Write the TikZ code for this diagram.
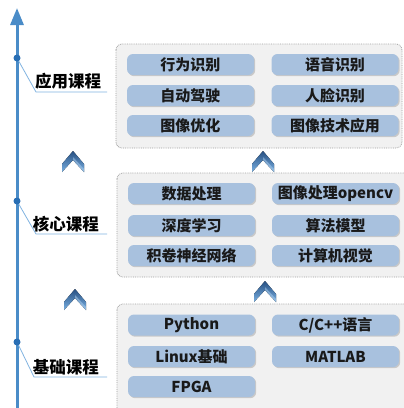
\documentclass[tikz,border=0pt]{standalone}
\usepackage{fontspec}
\setmainfont{Noto Sans CJK SC}
\usetikzlibrary{shadows,arrows.meta}
\definecolor{mainblue}{RGB}{74,140,200}
\definecolor{dotblue}{RGB}{40,110,180}
\definecolor{leaderblue}{RGB}{130,180,225}
\definecolor{boxblue}{RGB}{168,193,222}
\definecolor{panelgray}{RGB}{241,241,241}
\definecolor{textdark}{RGB}{25,25,25}
\definecolor{chevdark}{RGB}{40,80,130}
\definecolor{chevlight}{RGB}{120,175,225}
\begin{document}
\begin{tikzpicture}[x=1pt,y=-1pt,
  item/.style={rounded corners=6pt, fill=boxblue, minimum width=127pt, minimum height=21pt,
    inner sep=0pt, text=textdark, font=\bfseries\fontsize{15}{15}\selectfont,
    drop shadow={shadow xshift=1.2pt, shadow yshift=-1.2pt, opacity=0.35, fill=gray}},
  panel/.style={rounded corners=6pt, draw=gray!75, densely dotted, line width=0.8pt, fill=panelgray},
  lvl/.style={inner sep=0pt, text=black, font=\bfseries\fontsize{16.5}{16.5}\selectfont},
  dot/.style={circle, fill=dotblue, inner sep=0pt, minimum size=7pt},
  leader/.style={draw=leaderblue, line width=0.8pt},
  chev/.pic={\fill[left color=chevdark, right color=chevlight, shading angle=0]
      (-11,13) -- (0,0) -- (11,13) -- (11,21) -- (0,9) -- (-11,21) -- cycle;
    \fill[chevlight!60!white, opacity=0.5] (0,9) -- (11,21) -- (11,18) -- (0,6) -- cycle;}
]
\clip (0,0) rectangle (404,408);
\fill[white] (0,0) rectangle (404,408);

% main arrow
\coordinate (abot) at (17,410);
\coordinate (atop) at (17,8);
\draw[mainblue, line width=3pt, -{Triangle[width=13pt,length=17pt]}] (abot) -- (atop);

% panels
\draw[panel] (116,44) rectangle (402,148);
\draw[panel] (117,173) rectangle (412,277);
\draw[panel] (117,304) rectangle (412,416);

% chevrons
\pic at (73,151) {chev};
\pic at (263,151) {chev};
\pic at (75,289) {chev};
\pic at (265,281) {chev};

% level dots, leaders and labels
\node[dot] (d1) at (17,58) {};
\node[dot] (d2) at (17,201) {};
\node[dot] (d3) at (17,342) {};
\coordinate (k1) at (36,92);  \coordinate (e1) at (107,92);
\coordinate (k2) at (36,234); \coordinate (e2) at (107,234);
\coordinate (k3) at (34,377); \coordinate (e3) at (107,377);
\draw[leader] (d1) -- (k1) -- (e1);
\draw[leader] (d2) -- (k2) -- (e2);
\draw[leader] (d3) -- (k3) -- (e3);
\node[lvl] (l1) at (68,81) {应用课程};
\node[lvl] (l2) at (66,224) {核心课程};
\node[lvl] (l3) at (66,367) {基础课程};

% top panel items
\node[item] (a1) at (190.5,64.5) {行为识别};
\node[item] (a2) at (335,64.5) {语音识别};
\node[item] (a3) at (190.5,95.5) {自动驾驶};
\node[item] (a4) at (335,95.5) {人脸识别};
\node[item] (a5) at (190.5,125.5) {图像优化};
\node[item] (a6) at (335,125.5) {图像技术应用};

% middle panel items
\node[item] (b1) at (191.5,193.5) {数据处理};
\node[item] (b2) at (335.5,193.5) {图像处理opencv};
\node[item] (b3) at (191.5,225.5) {深度学习};
\node[item] (b4) at (335.5,225.5) {算法模型};
\node[item] (b5) at (191.5,255.5) {积卷神经网络};
\node[item] (b6) at (335.5,255.5) {计算机视觉};

% bottom panel items
\node[item] (c1) at (191.5,325) {Python};
\node[item] (c2) at (335.5,325) {C/C++语言};
\node[item] (c3) at (191.5,356.5) {Linux基础};
\node[item] (c4) at (335.5,356.5) {MATLAB};
\node[item] (c5) at (191.5,386.5) {FPGA};
\end{tikzpicture}
\end{document}
